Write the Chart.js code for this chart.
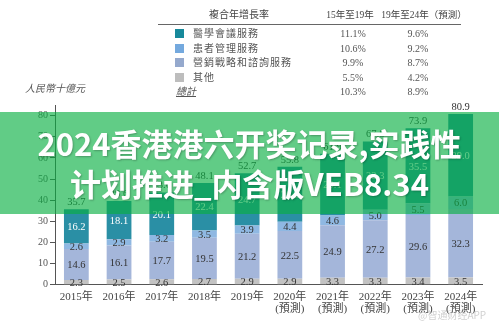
<!DOCTYPE html>
<html>
<head>
<meta charset="utf-8">
<script src="https://cdn.jsdelivr.net/npm/chart.js@4/dist/chart.umd.min.js"></script>
<style>
  html, body { margin: 0; padding: 0; background: #fff; }
  #wrap { position: relative; width: 499px; height: 326px; overflow: hidden; }
  canvas { position: absolute; left: 0; top: 0; }
  .t { position: absolute; white-space: nowrap; font-family: "Liberation Serif", "Noto Sans CJK TC", serif; color: #555; font-size: 10px; line-height: 12px; }
  .sw { position: absolute; width: 9px; height: 9px; }
  #rule { position: absolute; left: 158px; top: 24px; width: 303px; height: 1px; background: #666; }
  #banner { position: absolute; left: 0; top: 112px; width: 499px; height: 102px; background: rgba(8,175,66,0.64); }
  .bl { position: absolute; left: 0; width: 499px; text-align: center; color: #fff; font-family: "Noto Sans CJK SC", sans-serif; font-weight: 700; font-size: 31px; line-height: 36px; text-shadow: 1px 1px 2px rgba(0,0,0,0.25); }
  #wm { position: absolute; left: 418px; top: 307px; font-family: "Noto Sans CJK SC", sans-serif; font-size: 10px; color: rgba(150,150,150,0.45); }
</style>
</head>
<body>
<div id="wrap">
  <canvas id="c" width="499" height="326"></canvas>
  <div id="legend"></div>
  <div id="rule"></div>
  <div id="banner">
    <div class="bl" style="top:13px">2024香港港六开奖记录,实践性</div>
    <div class="bl" style="top:53px">计划推进_内含版VEB8.34</div>
  </div>
  <div id="wm">@智通财经APP</div>
</div>
<script>
// Market size by service type, RMB billions
const years = ['2015年', '2016年', '2017年', '2018年', '2019年', '2020年', '2021年', '2022年', '2023年', '2024年'];
const forecastNote = ['', '', '', '', '', '(預測)', '(預測)', '(預測)', '(預測)', '(預測)'];
const other      = [2.3, 2.5, 2.6, 2.7, 2.9, 2.9, 3.3, 3.3, 3.4, 3.5];
const marketing  = [14.6, 16.1, 17.7, 19.5, 21.2, 22.5, 24.9, 27.2, 29.6, 32.3];
const patient    = [2.6, 2.9, 3.2, 3.5, 3.9, 4.4, 4.6, 5.0, 5.5, 6.0];
const conference = [16.2, 18.1, 20.1, 22.4, 24.7, 26.0, 29.1, 32.3, 35.5, 39.0];
const totals     = [35.7, 39.6, 43.6, 48.1, 52.7, 55.8, 61.9, 67.8, 73.9, 80.9];

// Compound annual growth rates
const seriesNames = ['醫學會議服務', '患者管理服務', '營銷戰略和諮詢服務', '其他'];
const cagr1519 = ['11.1%', '10.6%', '9.9%', '5.5%'];
const cagr1924 = ['9.6%', '9.2%', '8.7%', '4.2%'];
const totalCagr = ['10.3%', '8.9%'];

const colors = {
  conference: '#2a8fa5',
  patient: '#8fb8e2',
  marketing: '#a4b6da',
  other: '#c3c3c3'
};
const swatchColors = ['#17899b', '#74a9de', '#95a9cd', '#bdbdbd'];

// CAGR table above the chart
const legend = document.getElementById('legend');
function addText(txt, x, y, extra) {
  const d = document.createElement('div');
  d.className = 't';
  d.textContent = txt;
  d.style.left = x + 'px';
  d.style.top = y + 'px';
  if (extra) Object.assign(d.style, extra);
  legend.appendChild(d);
  return d;
}
function addCentered(txt, cx, y, extra) {
  const d = addText(txt, 0, y, extra);
  d.style.left = (cx - 60) + 'px';
  d.style.width = '120px';
  d.style.textAlign = 'center';
  return d;
}
addCentered('複合年增長率', 239, 9, { color: '#444' });
addCentered('15年至19年', 350, 9, { color: '#444', fontSize: '9.5px' });
addCentered('19年至24年（預測）', 424, 9, { color: '#444', fontSize: '9.5px' });
const rowY = [28, 43, 57, 72];
seriesNames.forEach((n, i) => {
  const s = document.createElement('div');
  s.className = 'sw';
  s.style.left = '175px';
  s.style.top = (rowY[i] + 1) + 'px';
  s.style.background = swatchColors[i];
  legend.appendChild(s);
  addText(n, 193, rowY[i], { letterSpacing: '1px' });
  addCentered(cagr1519[i], 353, rowY[i]);
  addCentered(cagr1924[i], 418, rowY[i]);
});
addText('總計', 176, 86, { fontStyle: 'italic', textDecoration: 'underline' });
addCentered(totalCagr[0], 353, 86);
addCentered(totalCagr[1], 418, 86);
addText('人民幣十億元', 25, 83, { fontStyle: 'italic' });

// Value labels inside segments and totals above each bar
const valueLabels = {
  id: 'valueLabels',
  afterDatasetsDraw(chart) {
    const ctx = chart.ctx;
    ctx.save();
    ctx.font = '10.5px "Liberation Serif", serif';
    ctx.textAlign = 'center';
    ctx.textBaseline = 'middle';
    chart.data.datasets.forEach((ds, i) => {
      const meta = chart.getDatasetMeta(i);
      meta.data.forEach((bar, j) => {
        const p = bar.getProps(['x', 'y', 'base'], true);
        ctx.fillStyle = ds.labelColor;
        ctx.fillText(ds.data[j].toFixed(1), p.x, (p.y + p.base) / 2 + 1);
      });
    });
    const top = chart.getDatasetMeta(chart.data.datasets.length - 1);
    ctx.fillStyle = '#333';
    top.data.forEach((bar, j) => {
      ctx.fillText(totals[j].toFixed(1), bar.x, bar.y - 7);
    });
    ctx.restore();
  }
};

new Chart(document.getElementById('c'), {
  type: 'bar',
  data: {
    labels: years.map((y, i) => forecastNote[i] ? [y, forecastNote[i]] : y),
    datasets: [
      { label: '其他', data: other, backgroundColor: colors.other, labelColor: '#333' },
      { label: '營銷戰略和諮詢服務', data: marketing, backgroundColor: colors.marketing, labelColor: '#333' },
      { label: '患者管理服務', data: patient, backgroundColor: colors.patient, labelColor: '#333' },
      { label: '醫學會議服務', data: conference, backgroundColor: colors.conference, labelColor: '#fff' }
    ]
  },
  options: {
    responsive: false,
    animation: false,
    devicePixelRatio: 1,
    layout: { padding: { left: 36, right: 17, top: 105, bottom: 5 } },
    plugins: { legend: { display: false }, tooltip: { enabled: false } },
    datasets: { bar: { categoryPercentage: 1, barPercentage: 0.58 } },
    scales: {
      x: {
        stacked: true,
        grid: { display: false, drawTicks: false },
        border: { display: true, color: '#555', width: 1 },
        ticks: {
          color: '#444',
          font: { family: '"Liberation Serif", "Noto Sans CJK TC", serif', size: 11, lineHeight: 1.1 },
          padding: 6,
          maxRotation: 0
        }
      },
      y: {
        stacked: true,
        min: 0,
        max: 85,
        grid: { drawOnChartArea: false, drawTicks: true, tickLength: 5, color: '#555' },
        border: { display: true, color: '#555', width: 1 },
        ticks: {
          stepSize: 5,
          color: '#555',
          padding: 2,
          font: { family: '"Liberation Serif", serif', size: 10 }
        }
      }
    }
  },
  plugins: [valueLabels]
});
</script>
</body>
</html>
